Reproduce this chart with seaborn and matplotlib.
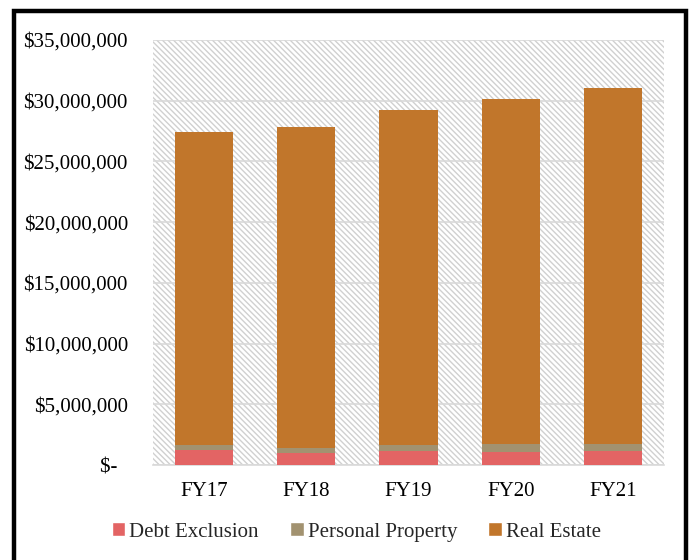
import pandas as pd
import numpy as np
import matplotlib
matplotlib.use("Agg")
import matplotlib.pyplot as plt
import seaborn as sns
from matplotlib.patches import Patch, Rectangle
from matplotlib.ticker import FuncFormatter

# values (dollars)
years = ["FY17", "FY18", "FY19", "FY20", "FY21"]
debt_exclusion = [1_220_000, 960_000, 1_150_000, 1_070_000, 1_120_000]
personal_property = [470_000, 470_000, 520_000, 660_000, 630_000]
real_estate = [25_700_000, 26_430_000, 27_580_000, 28_400_000, 29_310_000]

colors = {"Debt Exclusion": "#E36464",
          "Personal Property": "#A29270",
          "Real Estate": "#C1762B"}

df = pd.DataFrame({"year": years,
                   "Debt Exclusion": debt_exclusion,
                   "Personal Property": personal_property,
                   "Real Estate": real_estate})
# cumulative heights for stacking
df["cum_debt"] = df["Debt Exclusion"]
df["cum_pp"] = df["cum_debt"] + df["Personal Property"]
df["cum_re"] = df["cum_pp"] + df["Real Estate"]

sns.set_theme(style="white")
plt.rcParams["font.family"] = ["Liberation Serif", "DejaVu Serif"]
plt.rcParams["hatch.linewidth"] = 1.0

fig = plt.figure(figsize=(6.92, 5.60), dpi=100)
ax = fig.add_axes([0.221, 0.1696, 0.7385, 0.759])

# hatched plot-area background
bg = Rectangle((0, 0), 1, 1, transform=ax.transAxes, facecolor="white",
               edgecolor="#d0d0d0", linewidth=0, hatch="\\\\\\\\\\\\", zorder=0)
ax.add_patch(bg)

for col, name in [("cum_re", "Real Estate"),
                  ("cum_pp", "Personal Property"),
                  ("cum_debt", "Debt Exclusion")]:
    sns.barplot(data=df, x="year", y=col, order=years, color=colors[name],
                width=0.57, saturation=1, linewidth=0, ax=ax, zorder=3)

ax.set_ylim(0, 35_000_000)
ax.set_yticks(np.arange(0, 35_000_001, 5_000_000))
ax.yaxis.set_major_formatter(FuncFormatter(
    lambda v, p: "$-  " if v == 0 else f"${v:,.0f}"))
ax.grid(axis="y", color="#d9d9d9", linewidth=1.2, zorder=1)
ax.set_axisbelow(True)
ax.set_xlabel("")
ax.set_ylabel("")
for s in ["top", "right", "left"]:
    ax.spines[s].set_visible(False)
ax.spines["bottom"].set_color("#d9d9d9")
ax.spines["bottom"].set_linewidth(1.2)
ax.tick_params(axis="y", length=0, pad=18, labelsize=15, colors="black")
ax.tick_params(axis="x", length=0, pad=12, labelsize=15, colors="black")

handles = [Patch(facecolor=colors[n], label=n)
           for n in ["Debt Exclusion", "Personal Property", "Real Estate"]]
fig.legend(handles=handles, loc="center", bbox_to_anchor=(0.515, 0.05),
           ncol=3, frameon=False, fontsize=15, handlelength=0.65,
           handleheight=0.65, handletextpad=0.2, columnspacing=1.5)

# outer border
fig.patches.append(Rectangle((14 / 692, -0.05), 671.5 / 692, 1.05 - 10.5 / 560,
                             transform=fig.transFigure, fill=False,
                             edgecolor="black", linewidth=3.2))

fig.savefig("out.png", dpi=100)
